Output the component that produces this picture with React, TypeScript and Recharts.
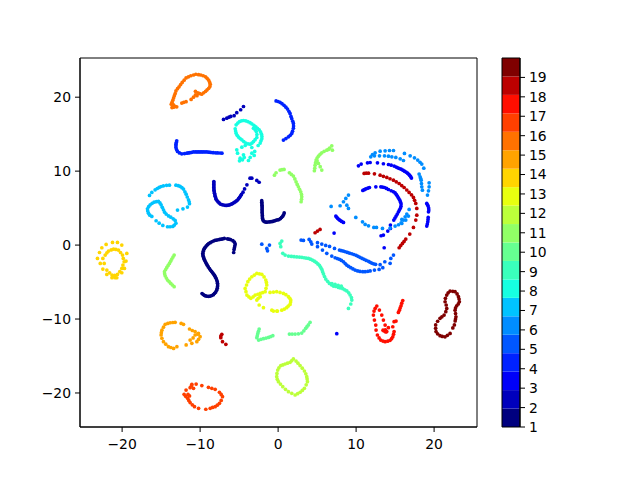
import { ScatterChart, Scatter, XAxis, YAxis, ReferenceArea } from "recharts";

type Pt = [number, number];

const label1: Pt[] = [
  [-5.7,-1.0],[-5.65,-0.6],[-5.6,-0.35],[-5.55,-0.1],[-5.5,0.15],[-5.6,0.4],[-5.8,0.6],[-6.1,0.75],[-6.3,0.8],[-6.5,0.85],[-6.9,0.9],[-7.1,0.85],[-7.3,0.8],[-7.5,0.76],[-7.7,0.72],[-7.9,0.68],[-8.1,0.65],[-8.3,0.55],[-8.5,0.45],[-8.7,0.33],[-8.9,0.2],[-9.05,0.05],[-9.2,-0.1],[-9.35,-0.3],[-9.45,-0.45],[-9.55,-0.65],[-9.6,-0.85],[-9.65,-1.1],[-9.65,-1.3],[-9.6,-1.5],[-9.55,-1.7],[-9.47,-1.9],[-9.4,-2.1],[-9.3,-2.3],[-9.2,-2.5],[-9.08,-2.72],[-8.95,-2.95],[-8.8,-3.17],[-8.65,-3.4],[-8.52,-3.57],[-8.4,-3.75],[-8.27,-3.92],[-8.15,-4.1],[-8.05,-4.3],[-7.95,-4.5],[-7.87,-4.72],[-7.8,-4.95],[-7.77,-5.17],[-7.75,-5.4],[-7.77,-5.62],[-7.8,-5.85],[-7.88,-6.1],[-8.0,-6.35],[-8.15,-6.52],[-8.3,-6.7],[-8.5,-6.82],[-8.7,-6.9],[-8.9,-6.93],[-9.1,-6.92],[-9.28,-6.87],[-9.45,-6.8],[-9.6,-6.68],[-9.75,-6.55],
  [-2.1,6.0],[-2.09,5.8],[-2.08,5.6],[-2.07,5.4],[-2.05,5.2],[-2.05,5.0],[-2.05,4.8],[-2.05,4.6],[-2.05,4.4],[-2.03,4.2],[-2.02,4.0],[-2.01,3.8],[-2.0,3.6],[-1.95,3.4],[-1.85,3.25],[-1.7,3.15],[-1.5,3.1],[-1.3,3.12],[-1.1,3.15],[-0.9,3.17],[-0.7,3.2],[-0.5,3.27],[-0.3,3.35],[-0.1,3.4],[0.1,3.45],[0.3,3.58],[0.45,3.75],[0.6,3.92],[0.7,4.1],[0.78,4.35],
];
const label2: Pt[] = [
  [-8.24,8.6],[-8.24,8.4],[-8.24,8.2],[-8.24,8.0],[-8.24,7.8],[-8.23,7.6],[-8.22,7.4],[-8.19,7.2],[-8.15,7.0],[-8.11,6.8],[-8.07,6.6],[-8.0,6.4],[-7.95,6.2],[-7.83,6.02],[-7.7,5.85],[-7.55,5.7],[-7.4,5.55],[-7.2,5.48],[-7.0,5.42],[-6.8,5.38],[-6.6,5.36],[-6.4,5.4],[-6.2,5.45],[-6.02,5.53],[-5.85,5.62],[-5.67,5.73],[-5.5,5.85],[-5.35,5.97],[-5.2,6.1],[-5.07,6.27],[-4.95,6.45],[-4.82,6.65],[-4.7,6.85],[-4.5,7.15],[-4.3,7.6],[-4.0,8.15],[-3.6,9.05],[-3.37,9.05],[-2.73,8.74],[-2.43,8.5],
  [-7.0,17.0],[-6.58,17.16],[-6.3,17.3],[-6.07,17.4],[-5.64,17.5],[-5.3,17.9],[-4.8,18.3],[-4.44,18.74],
];
const label3: Pt[] = [
  [10.3,10.72],[10.65,10.95],[11.46,11.13],[11.8,11.17],[12.74,11.13],[13.5,11.0],[14.15,10.9],[14.5,10.8],[14.88,10.68],[15.15,10.55],[15.35,10.45],[15.55,10.36],[15.77,10.27],[16.0,10.13],[16.2,10.0],[16.4,9.87],[16.6,9.73],[16.75,9.57],[16.88,9.42],[17.0,9.25],[17.1,9.06],
  [10.86,7.39],[11.05,7.5],[11.24,7.6],[11.5,7.7],[11.71,7.79],[12.53,7.88],[13.17,7.88],[13.4,7.84],[13.64,7.79],[13.9,7.66],[14.15,7.52],[14.5,7.35],[14.79,7.21],[15.0,7.05],[15.15,6.85],[15.3,6.62],[15.45,6.35],[15.6,6.08],[15.7,5.8],[15.77,5.54],[15.75,5.25],[15.69,5.0],[15.55,4.75],[15.43,4.5],[15.28,4.2],[15.13,3.92],[14.98,3.65],[14.83,3.38],
  [14.4,2.7],[14.4,2.25],[14.06,1.89],[13.5,1.35],[13.2,1.26],[13.6,-0.36],
  [19.06,5.63],[19.15,5.45],[19.24,5.27],[19.3,5.0],[19.32,4.73],[19.28,4.5],[19.24,3.74],[19.22,3.45],[19.19,3.15],[19.13,2.85],[19.06,2.57],
  [7.4,3.92],[7.52,3.76],[7.65,3.6],[7.8,3.46],[7.95,3.33],[8.15,3.2],[8.38,3.06],[7.18,1.62],[7.52,-11.98],
];
const label4: Pt[] = [
  [-13.0,14.1],[-13.05,13.87],[-13.1,13.65],[-13.1,13.42],[-13.1,13.2],[-13.02,12.92],[-12.9,12.66],[-12.65,12.47],[-12.35,12.34],[-12.0,12.38],[-11.7,12.43],[-11.5,12.47],[-11.3,12.5],[-11.07,12.55],[-10.85,12.6],[-10.6,12.6],[-10.4,12.6],[-10.2,12.6],[-10,12.6],[-9.8,12.6],[-9.6,12.6],[-9.37,12.6],[-9.14,12.6],[-8.9,12.57],[-8.7,12.55],[-8.5,12.52],[-8.3,12.5],[-8.0,12.48],[-7.75,12.47],[-7.45,12.45],[-7.2,12.43],
  [-0.26,19.5],[0.0,19.42],[0.25,19.3],[0.5,19.12],[0.76,18.9],[1.0,18.65],[1.2,18.4],[1.38,18.1],[1.53,17.8],[1.65,17.4],[1.75,17.1],[1.88,16.75],[1.96,16.45],[1.98,16.1],[1.96,15.8],[1.85,15.4],[1.75,15.1],[1.55,14.85],[1.32,14.64],[1.0,14.4],[0.68,14.2],
];
const label5: Pt[] = [
  [2.95,0.68],[3.25,0.63],[3.98,0.77],[4.19,0.45],[4.32,0.14],[5.05,0.32],[5.6,0.14],[6.1,-0.04],[6.6,-0.18],[7.23,-0.45],[7.87,-0.67],[8.12,-0.75],[8.38,-0.81],[8.63,-0.9],[8.89,-0.99],[9.15,-1.08],[9.45,-1.17],[9.72,-1.27],[10.0,-1.39],[10.25,-1.52],[10.5,-1.66],[10.77,-1.8],[11.03,-1.93],[11.3,-2.07],[11.6,-2.2],[11.8,-2.32],[12.0,-2.43],[12.25,-2.53],[12.5,-2.6],[13.08,-2.65],[13.68,-2.25],[14.36,-2.47],[14.45,-1.8],[14.79,-1.35],
  [5.05,-0.22],[5.69,-0.67],[6.24,-1.12],[6.88,-1.48],[7.31,-1.71],[7.6,-1.82],[7.87,-1.93],[8.12,-2.08],[8.38,-2.25],[8.6,-2.5],[8.8,-2.7],[9.05,-2.88],[9.32,-3.06],[9.6,-3.22],[9.88,-3.38],[10.2,-3.5],[10.5,-3.56],[10.85,-3.6],[11.16,-3.6],[11.5,-3.55],[11.8,-3.5],[12.35,-3.38],[12.95,-3.29],[13.42,-3.06],
  [-2.09,0.13],[-1.11,0.0],[-1.45,-0.45],[-1.36,-0.77],
];
const label6: Pt[] = [
  [11.88,11.94],[12.1,12.25],[12.44,12.48],[13.08,12.7],[13.72,12.75],[14.28,12.79],[14.79,12.79],
  [12.35,12.07],[13.0,12.07],[13.64,12.07],[14.15,12.03],[14.58,11.94],[15.09,11.85],[15.65,11.67],[16.07,11.44],
  [16.2,12.39],[16.93,12.07],[17.48,11.8],[17.9,11.49],[18.2,11.2],[18.42,10.95],[18.68,10.4],
  [18.08,9.6],[18.21,9.24],[18.28,9.0],[18.34,8.78],[18.38,8.33],[18.42,7.88],[18.5,7.43],
  [19.36,8.42],[19.36,7.88],[19.28,7.34],[19.15,6.76],
  [9.02,6.76],[8.68,6.31],[8.38,5.86],[7.95,5.32],[6.8,5.23],[8.81,5.4],[9.02,4.96],
  [9.96,3.74],[10.82,3.15],[11.16,2.8],[11.59,2.61],[12.27,2.39],[12.61,2.39],[13.38,2.25],
  [14.36,2.3],[15.0,2.57],[15.43,2.75],[15.86,2.93],[16.07,3.38],[16.29,3.83],[16.5,4.19],[16.8,4.82],[15.86,3.47],[16.71,3.92],[16.37,3.38],[15.77,3.02],
];
const label7: Pt[] = [
  [-16.49,6.71],[-16.19,7.12],[-15.77,7.48],[-15.5,7.65],[-15.25,7.8],[-15.0,7.92],[-14.7,8.02],[-14.3,8.08],[-13.93,8.1],[-13.1,8.1],[-12.8,8.03],[-12.56,7.93],[-12.33,7.77],[-12.13,7.57],[-11.95,7.2],[-11.79,6.89],[-11.65,6.5],[-11.49,6.13],[-11.4,5.85],[-11.36,5.59],[-11.62,5.14],[-12.2,4.91],[-12.9,4.73],
  [-16.19,3.87],[-16.45,4.05],[-16.62,4.32],[-16.72,4.62],[-16.75,4.91],[-16.6,5.2],[-16.4,5.45],[-16.15,5.65],[-15.9,5.8],[-15.6,5.87],[-15.34,5.9],[-15.15,5.7],[-15,5.45],[-14.85,5.1],[-14.7,4.77],[-14.55,4.45],[-14.35,4.19],[-14.05,3.95],[-13.76,3.78],[-13.45,3.55],[-13.2,3.33],[-13.1,2.97],[-13.3,2.7],[-13.5,2.52],[-13.85,2.48],[-14.18,2.48],[-14.78,2.66],[-15.25,2.97],[-15.64,3.29],
];
const label8: Pt[] = [
  [-5.38,16.26],[-5.17,16.5],[-4.95,16.7],[-4.7,16.8],[-4.44,16.85],[-4.15,16.8],[-3.88,16.7],[-3.6,16.55],[-3.37,16.4],[-3.1,16.2],[-2.86,16.0],[-2.65,15.8],[-2.43,15.6],[-2.25,15.3],[-2.13,15],[-2.08,14.7],[-2.09,14.37],[-2.2,14.1],[-2.3,13.8],[-2.56,13.47],
  [-5.5,15.72],[-5.45,15.42],[-5.38,15.13],[-5.25,14.85],[-5.08,14.6],[-4.87,14.4],[-4.65,14.23],[-4.4,14.0],[-4.14,13.8],[-3.85,13.7],[-3.58,13.65],[-3.35,13.8],[-3.16,14.0],[-2.95,14.25],[-2.73,14.55],[-2.72,14.95],[-2.8,15.36],[-2.95,15.6],[-3.16,15.8],
  [-5.3,12.88],[-5.2,12.43],[-4.65,13.24],[-4.22,13.47],[-3.37,13.2],[-3,12.66],[-3.07,12.12],[-3.58,11.85],[-3.8,11.44],[-4.44,12.2],[-4.87,11.76],[-4.95,11.4],[-4.57,11.53],[-4.35,11.85],[-3.37,12.43],
];
const label9: Pt[] = [
  [0.6,-1.12],[0.9,-1.35],[1.33,-1.48],[1.7,-1.53],[2.05,-1.57],[2.4,-1.6],[2.74,-1.62],[3.05,-1.66],[3.34,-1.71],[3.6,-1.75],[3.89,-1.8],[4.15,-1.9],[4.4,-2.02],[4.65,-2.17],[4.88,-2.34],[5.1,-2.55],[5.3,-2.74],[5.45,-3.0],[5.6,-3.28],[5.7,-3.6],[5.82,-3.9],[5.95,-4.25],[6.11,-4.6],[6.35,-4.9],[6.58,-5.18],[6.85,-5.38],[7.1,-5.54],[7.4,-5.6],[7.74,-5.72],[8.0,-5.8],[8.3,-5.9],[8.55,-6.05],[8.81,-6.2],[9.05,-6.45],[9.23,-6.75],[9.4,-7.1],[9.45,-7.43],[9.32,-7.97],[9.02,-8.56],
  [6.9,-5.2],[7.3,-5.3],[7.7,-5.45],[8.1,-5.55],[0.47,0.54],[0.25,0.23],[0.34,-0.22],
];
const label10: Pt[] = [
  [-2.43,-11.35],[-2.52,-11.65],[-2.6,-11.94],[-2.67,-12.25],[-2.73,-12.52],[-2.5,-12.84],[-2.2,-12.75],[-1.88,-12.66],[-1.55,-12.57],[-1.23,-12.48],[-0.95,-12.37],[-0.68,-12.25],
  [1.45,-12.03],[1.8,-12.03],[2.18,-12.03],[2.6,-12.0],[3.03,-11.9],[3.3,-11.6],[3.54,-11.26],[3.7,-11.03],[3.88,-10.8],[4.1,-10.45],
];
const label11: Pt[] = [
  [-13.33,-1.35],[-13.48,-1.62],[-13.63,-1.89],[-13.78,-2.18],[-13.93,-2.48],[-14.1,-2.75],[-14.27,-3.02],[-14.42,-3.3],[-14.57,-3.6],[-14.55,-3.88],[-14.48,-4.15],[-14.33,-4.45],[-14.18,-4.73],[-13.97,-4.95],[-13.76,-5.18],[-13.55,-5.4],[-13.33,-5.63],
  [-0.47,9.46],[-0.26,9.78],[0.25,10.14],[0.5,10.2],[0.76,10.23],[1.45,9.78],[1.7,9.55],[1.96,9.33],[2.15,8.95],[2.3,8.56],[2.45,8.2],[2.6,7.89],[2.75,7.55],[2.9,7.2],[3.0,6.85],[3.03,6.53],[3.0,6.2],[2.95,5.86],
  [4.65,10.05],[4.7,10.4],[4.74,10.8],[4.8,11.15],[4.87,11.49],[5.0,11.77],[5.17,12.03],[5.38,12.27],[5.6,12.48],[5.9,12.68],[6.24,12.84],[6.6,13.1],[6.88,13.43],[6.96,12.84],[6.45,12.93],[5.0,11.4],[5.17,11.04],[5.4,10.6],[5.6,10.14],
];
const label12: Pt[] = [
  [1.96,-15.4],[1.75,-15.63],[1.53,-15.86],[1.2,-15.97],[0.89,-16.08],[0.6,-16.2],[0.34,-16.3],[0.1,-16.6],[-0.05,-16.9],[-0.15,-17.35],[-0.18,-17.8],[-0.1,-18.15],[0.04,-18.47],[0.3,-18.8],[0.6,-19.15],[0.95,-19.5],[1.32,-19.82],[1.75,-20.05],[2.18,-20.27],[2.5,-20.1],[2.82,-19.9],[3.1,-19.65],[3.37,-19.37],[3.6,-18.9],[3.76,-18.47],[3.72,-18.1],[3.67,-17.8],[3.55,-17.4],[3.37,-17.03],[3.1,-16.65],[2.82,-16.3],[2.55,-15.97],[2.3,-15.68],
];
const label13: Pt[] = [
  [-2.09,-3.96],[-2.4,-3.88],[-2.73,-3.83],[-3.05,-4.05],[-3.37,-4.28],[-3.65,-4.6],[-3.88,-4.95],[-4.05,-5.4],[-4.23,-5.86],[-4.12,-6.3],[-4.0,-6.76],[-3.75,-7.0],[-3.5,-7.2],[-3.2,-7.0],[-2.94,-6.76],[-2.6,-6.65],[-2.3,-6.53],[-1.98,-6.42],[-1.66,-6.3],[-1.55,-5.85],[-1.45,-5.4],[-1.5,-5.05],[-1.58,-4.73],[-1.8,-4.3],
  [-2.73,-7.43],[-2.43,-8.1],[-1.88,-8.47],[-0.8,-8.8],[-0.17,-8.92],[-2.3,-6.98],[-2.55,-7.2],
  [-1.03,-6.4],[-0.6,-6.35],[-0.18,-6.3],[0.25,-6.4],[0.68,-6.53],[1.0,-6.7],[1.32,-6.98],[1.5,-7.2],[1.62,-7.43],[1.6,-7.7],[1.53,-8.02],[1.3,-8.25],[1.1,-8.47],[0.8,-8.65],[0.47,-8.8],[-0.09,-8.92],[-0.6,-8.92],
];
const label14: Pt[] = [
  [-23.16,-1.8],[-22.9,-1.0],[-22.6,-0.36],[-22.05,0.09],[-21.23,0.36],[-20.6,0.36],[-20.04,0],[-19.4,-1.13],[-19.5,-2.16],[-19.7,-3.15],[-20.04,-3.74],[-20.68,-4.42],[-21.3,-4.42],[-21.96,-3.97],[-22.47,-3.24],[-22.8,-2.48],
  [-22.17,-1.35],[-21.95,-1.05],[-21.75,-0.81],[-21.4,-0.65],[-21.1,-0.54],[-20.8,-0.58],[-20.47,-0.68],[-20.2,-1.0],[-19.95,-1.35],[-19.85,-1.8],[-19.74,-2.25],[-19.9,-2.7],[-20.04,-3.15],[-20.3,-3.6],[-20.6,-3.97],[-20.95,-4.1],[-21.3,-4.05],[-21.6,-3.75],[-21.96,-3.38],[-22.3,-2.48],[-22.47,-1.8],[-20.9,-4.4],[-21.1,-4.25],
];
const label15: Pt[] = [
  [-13.2,-10.45],[-13.5,-10.47],[-13.84,-10.5],[-14.15,-10.6],[-14.48,-10.72],[-14.7,-11.1],[-14.9,-11.5],[-14.97,-11.85],[-15,-12.16],[-14.9,-12.6],[-14.7,-13.06],[-14.4,-13.4],[-14.06,-13.74],[-13.75,-13.85],[-13.4,-13.97],[-12.98,-13.74],
  [-12.43,-10.59],[-12.13,-10.72],[-11.36,-11.35],[-11.0,-11.55],[-10.64,-11.71],[-10.3,-12.05],[-10,-12.39],[-10.2,-12.75],[-10.42,-13.06],[-11.06,-13.29],[-11.79,-13.5],[-10.64,-12.16],[-11.28,-12.84],[-10.21,-11.94],[-10.9,-12.55],
];
const label16: Pt[] = [
  [-13.6,18.6],[-13.7,19.05],[-13.6,19.3],[-13.5,19.6],[-13.4,19.9],[-13.3,20.2],[-13.2,20.5],[-13.1,20.85],[-12.9,21.15],[-12.7,21.4],[-12.5,21.7],[-12.3,22.0],[-12.05,22.3],[-11.8,22.6],[-11.5,22.75],[-11.2,22.9],[-10.85,23.0],[-10.55,23.1],[-10.2,23.05],[-9.9,23.0],[-9.6,22.9],[-9.3,22.75],[-9.1,22.55],[-8.9,22.3],[-8.77,22.0],[-8.7,21.75],[-8.75,21.45],[-8.9,21.2],[-9.1,21.0],[-9.3,20.8],[-9.55,20.6],[-9.8,20.4],[-10.05,20.5],[-10.3,20.6],[-10.6,20.8],[-10.4,20.2],[-10.85,20.0],[-11.15,19.7],[-11.8,19.4],[-12.1,19.3],[-12.35,19.2],[-13.0,18.7],[-13.4,18.65],
  [-13.45,19.0],[-10.6,20.3],[-10.1,20.5],[-13.2,18.75],
];
const label17: Pt[] = [
  [-11.06,-18.83],[-10.51,-18.8],[-9.78,-19.0],[-8.93,-19.23],[-8.5,-19.37],[-8.07,-19.5],[-7.52,-19.9],[-7.3,-20.2],[-7.13,-20.5],[-7.3,-21.0],[-7.52,-21.4],[-7.8,-21.65],[-8.07,-21.85],[-8.4,-21.95],[-8.71,-22.07],[-9.27,-22.2],[-10.2,-22.07],[-10.72,-21.85],[-11.0,-21.6],[-11.28,-21.3],[-11.45,-21.0],[-11.6,-20.72],[-11.85,-20.45],[-12.05,-20.18],[-11.8,-19.6],[-11.28,-19.28],[-10.85,-19.37],[-11.36,-20.4],[-11.1,-19.0],[-11.55,-20.2],
];
const label18: Pt[] = [
  [12.65,-8.24],[12.45,-8.55],[12.3,-8.92],[12.22,-9.46],[12.35,-10.14],[12.52,-10.81],[12.56,-11.49],[12.73,-12.16],[12.95,-12.55],[13.16,-12.84],[13.45,-12.98],[13.72,-13.06],[14.05,-13.0],[14.35,-12.88],[14.55,-12.65],[14.7,-12.4],[14.8,-12.05],[14.87,-11.7],
  [12.99,-8.79],[13.29,-9.46],[13.5,-10.14],[13.72,-10.81],[13.59,-11.62],[13.93,-11.7],[14.14,-11.17],[14.7,-11.04],[14.87,-10.36],[15.12,-10.27],[13.75,-11.45],[13.45,-11.5],[13.8,-11.75],
  [15.42,-9.1],[15.55,-8.8],[15.76,-8.2],[15.98,-7.5],[15.65,-8.5],[15.85,-7.85],
];
const label19: Pt[] = [
  [11.03,9.69],[11.3,9.72],[11.59,9.73],[12.35,9.64],[13.08,9.46],[13.5,9.3],[13.94,9.15],[14.35,8.97],[14.79,8.78],[15.15,8.55],[15.52,8.33],[15.85,8.05],[16.16,7.79],[16.5,7.45],[16.8,7.12],[17.1,6.8],[17.35,6.44],[17.5,6.05],[17.65,5.63],[17.78,4.96],[17.78,4.05],[17.65,3.38],[17.35,2.39],[16.88,1.49],[16.37,0.81],[16.15,0.5],[15.94,0.23],[15.72,-0.07],[15.52,-0.36],
  [4.74,1.67],[5.05,1.9],[5.38,2.12],[-7.22,-12.07],[-7.35,-12.3],[-7.35,-12.52],[-7.13,-13.06],[-6.7,-13.42],
];
const label20: Pt[] = [
  [21.62,-6.76],[21.8,-6.45],[22.05,-6.22],[22.4,-6.25],[22.69,-6.3],[22.95,-6.6],[23.12,-6.98],[23.2,-7.3],[23.24,-7.66],[23.1,-7.95],[22.9,-8.2],[22.75,-8.5],[22.69,-8.8],[22.75,-9.25],[22.8,-9.7],[22.75,-10.0],[22.7,-10.25],[22.6,-10.8],[22.4,-11.2],[22.05,-11.94],[21.7,-12.2],[21.4,-12.4],[21.05,-12.35],[20.76,-12.25],[20.45,-12.0],[20.25,-11.7],[20.2,-11.25],[20.2,-10.8],[20.45,-10.3],[20.76,-9.9],[21.0,-9.7],[21.28,-9.46],[21.5,-9.0],[21.62,-8.56],[21.55,-8.1],[21.41,-7.66],[21.45,-7.2],
];

const labels = [
  label1, label2, label3, label4, label5, label6, label7, label8, label9, label10,
  label11, label12, label13, label14, label15, label16, label17, label18, label19, label20,
];
const levelColors = [
  "#00007f", "#0000bc", "#0000f9", "#0022ff", "#0057ff", "#008dff", "#00c3ff", "#16ffe1", "#3affbc", "#66ff91",
  "#91ff66", "#bcff3a", "#e8ff0f", "#ffd500", "#ffa300", "#ff7200", "#ff4000", "#ff0e00", "#bc0000", "#7f0000",
];
const xTicks = [-20, -10, 0, 10, 20];
const yTicks = [-20, -10, 0, 10, 20];
const barTicks = [1, 2, 3, 4, 5, 6, 7, 8, 9, 10, 11, 12, 13, 14, 15, 16, 17, 18, 19];

const tickFont = { fill: "#000", fontSize: 13.9, fontFamily: "DejaVu Sans" };
const tickLine = { stroke: "#000" };
const axisLine = { stroke: "#000" };
const minus = (v: number) => String(v).replace("-", "\u2212");

// the colorbar runs 1 to 20 in 20 equal steps
const barStep = 19 / 20;

export default function App() {
  return (
    <div style={{ position: "absolute", left: 0, top: 0, width: 640, height: 480, background: "#fff" }}>
      <div style={{ position: "absolute", left: 0, top: 0 }}>
        <ScatterChart width={640} height={480} margin={{ top: 58, right: 163, bottom: 23, left: 30 }}>
          <XAxis
            type="number"
            dataKey="x"
            domain={[-25.4, 25.5]}
            ticks={xTicks}
            tick={{ ...tickFont, dy: 5 }}
            tickLine={tickLine}
            axisLine={axisLine}
            tickSize={5}
            tickFormatter={minus}
            height={30}
            allowDataOverflow
          />
          <YAxis
            type="number"
            dataKey="y"
            domain={[-24.6, 25.3]}
            ticks={yTicks}
            tick={tickFont}
            tickLine={tickLine}
            axisLine={axisLine}
            tickSize={5}
            tickMargin={4}
            tickFormatter={minus}
            width={50}
            allowDataOverflow
          />
          {labels.map((pts, i) => (
            <Scatter
              key={i}
              data={pts.map(([x, y]) => ({ x, y }))}
              fill={levelColors[i]}
              isAnimationActive={false}
              shape={(p: any) => <circle cx={p.cx} cy={p.cy} r={1.85} fill={levelColors[i]} />}
            />
          ))}
          <ReferenceArea x1={-25.4} x2={25.5} y1={-24.6} y2={25.3} fill="none" stroke="#000" />
        </ScatterChart>
      </div>
      <div style={{ position: "absolute", left: 0, top: 0 }}>
        <ScatterChart width={640} height={480} margin={{ top: 58, right: 70, bottom: 53, left: 502 }}>
          <XAxis type="number" dataKey="x" domain={[0, 1]} hide />
          <YAxis
            type="number"
            dataKey="y"
            orientation="right"
            domain={[1, 20]}
            ticks={barTicks}
            interval={0}
            tick={tickFont}
            tickLine={tickLine}
            axisLine={axisLine}
            tickSize={5}
            tickMargin={4}
            width={50}
            allowDataOverflow
          />
          <Scatter data={[{ x: 0, y: 1 }]} fill="none" isAnimationActive={false} />
          {levelColors.map((c, i) => (
            <ReferenceArea
              key={c}
              x1={0}
              x2={1}
              y1={1 + i * barStep}
              y2={1 + (i + 1) * barStep}
              fill={c}
              fillOpacity={1}
              stroke="none"
            />
          ))}
          <ReferenceArea x1={0} x2={1} y1={1} y2={20} fill="none" stroke="#000" />
        </ScatterChart>
      </div>
    </div>
  );
}
